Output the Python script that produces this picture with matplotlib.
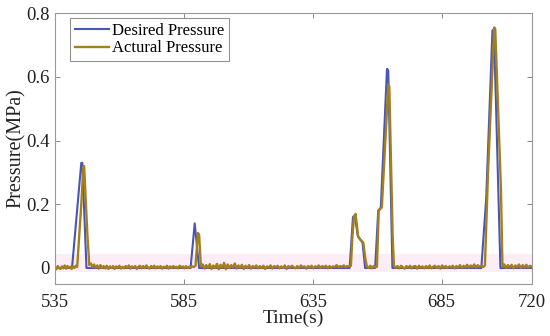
import numpy as np
import matplotlib
matplotlib.use('Agg')
import matplotlib.pyplot as plt

plt.rcParams['font.family'] = ['Liberation Serif', 'DejaVu Serif']

# Presión deseada (puntos de quiebre de la consigna)
t_des = [535, 541.6, 545.2, 545.6, 547.2,
         587.6, 589.2, 590.9,
         649.3, 650.6, 651.3, 652.5, 653.3, 654.3, 655.3,
         659.2, 660.4, 661.4, 663.8, 664.3, 665.9,
         700.4, 702.3, 704.7, 705.3, 707.8, 720]
p_des = [0, 0, 0.33, 0.33, 0,
         0, 0.14, 0,
         0, 0.16, 0.165, 0.10, 0.09, 0.08, 0,
         0, 0.18, 0.19, 0.625, 0.62, 0,
         0, 0.22, 0.745, 0.75, 0, 0]

rest_lims = [(535, 543.6), (548.3, 589.5), (591.6, 649.8),
             (656.0, 659.9), (666.5, 701.8), (708.6, 720)]
rest_vals = [
    [0.003, -0.004, 0.006, 0.000, -0.003, 0.005, -0.001, 0.008, -0.002, 0.006,
     0.001, 0.004, -0.003, 0.005, 0.000, 0.007, 0.003],
    [0.009, 0.014, 0.003, 0.011, 0.001, 0.008, -0.002, 0.009, 0.000, 0.006,
     -0.001, 0.007, -0.003, 0.005, 0.000, 0.006, -0.003, 0.005, 0.001, 0.007,
     -0.002, 0.004, -0.001, 0.006, 0.000, 0.008, -0.002, 0.005, 0.001, 0.006,
     -0.003, 0.004, 0.007, -0.001, 0.006, 0.000, 0.008, 0.002, -0.002, 0.006,
     0.001, 0.007, -0.001, 0.005, 0.000, 0.006, -0.002, 0.004, 0.001, 0.007,
     -0.002, 0.005, 0.000, 0.006, 0.001, 0.004, -0.001, 0.007, 0.002, 0.005,
     -0.001, 0.006, 0.000, 0.004, 0.002, 0.005, 0.003, 0.007],
    [0.005, 0.011, -0.002, 0.009, 0.001, 0.012, -0.003, 0.008, 0.000, 0.013,
     -0.004, 0.010, 0.001, 0.016, -0.004, 0.011, 0.000, 0.009, 0.002, 0.014,
     -0.002, 0.008, 0.001, 0.010, -0.003, 0.007, 0.000, 0.009, -0.002, 0.006,
     0.002, 0.008, -0.001, 0.006, 0.000, 0.007, -0.003, 0.005, 0.001, 0.008,
     -0.002, 0.006, 0.002, 0.007, -0.001, 0.005, 0.000, 0.008, -0.003, 0.006,
     0.001, 0.007, 0.002, -0.001, 0.006, 0.000, 0.008, 0.002, 0.005, -0.002,
     0.006, 0.001, 0.007, -0.001, 0.005, 0.003, 0.008, 0.000, 0.006, 0.002,
     0.007, -0.001, 0.006, 0.001, 0.005, 0.003, 0.009, 0.002, 0.006, 0.004,
     0.008, 0.003, 0.006, 0.005, 0.007],
    [0.005, 0.000, 0.007, -0.001, 0.006, 0.002, 0.004],
    [0.007, 0.001, 0.006, -0.001, 0.007, 0.002, -0.002, 0.006, 0.000, 0.007,
     -0.001, 0.005, 0.006, -0.002, 0.007, 0.001, 0.005, -0.001, 0.006, 0.000,
     0.008, -0.001, 0.004, 0.007, 0.000, 0.006, -0.002, 0.008, 0.001, 0.006,
     0.000, 0.005, 0.002, 0.007, -0.001, 0.006, 0.001, 0.009, 0.000, 0.007,
     0.002, 0.010, 0.001, 0.008, 0.003, 0.011, 0.002, 0.009, 0.004, 0.007,
     0.003, 0.008],
    [0.004, 0.011, 0.000, 0.009, 0.002, 0.010, -0.001, 0.008, 0.003, 0.011,
     0.000, 0.009, 0.002, 0.010, 0.001, 0.007, 0.004],
]
# Presión real: subidas y bajadas entre tramos de reposo
peak_t = [[545.2, 546.0, 546.3, 547.6],
          [590.0, 590.4, 590.9],
          [650.4, 651.0, 651.6, 652.6, 653.4, 654.6, 655.4],
          [660.6, 661.8, 664.3, 664.7, 666.0],
          [703.0, 705.4, 705.8, 708.0]]
peak_p = [[0.20, 0.32, 0.32, 0.10],
          [0.06, 0.11, 0.105],
          [0.10, 0.16, 0.17, 0.10, 0.09, 0.08, 0.03],
          [0.18, 0.19, 0.575, 0.57, 0.10],
          [0.30, 0.755, 0.75, 0.25]]

t_act, p_act = [], []
for i, (a, b) in enumerate(rest_lims):
    t_act += list(np.linspace(a, b, len(rest_vals[i])))
    p_act += rest_vals[i]
    if i < len(peak_t):
        t_act += peak_t[i]
        p_act += peak_p[i]

fig = plt.figure(figsize=(5.5, 3.36), dpi=100)
ax = fig.add_axes([0.1, 0.155, 0.867, 0.806])

ax.axhspan(-0.012, 0.045, color='#fdedf7', lw=0, zorder=0)
ax.plot(t_des, p_des, color='#4a55b8', lw=1.5, label='Desired Pressure')
ax.plot(t_act, p_act, color='#a3801c', lw=1.7, label='Actural Pressure')

ax.set_xlim(535, 720)
ax.set_ylim(-0.05, 0.8)
ax.set_xticks([535, 585, 635, 685, 720])
ax.set_yticks([0, 0.2, 0.4, 0.6, 0.8])
ax.set_yticklabels(['0', '0.2', '0.4', '0.6', '0.8'])
ax.tick_params(direction='in', top=True, right=True, length=3.5,
               width=0.6, colors='#777777', labelcolor='#222222',
               labelsize=13.5)
ax.tick_params(axis='x', pad=7)
ax.tick_params(axis='y', pad=4)
for s in ax.spines.values():
    s.set_color('#999999')
    s.set_linewidth(0.8)

ax.set_xlabel('Time(s)', fontsize=14, color='#222222', labelpad=-1)
ax.set_ylabel('Pressure(MPa)', fontsize=14.5, color='#222222', labelpad=0)

leg = ax.legend(loc='upper left', bbox_to_anchor=(0.025, 0.995),
                fontsize=12, frameon=True, fancybox=False,
                handlelength=2.0, handletextpad=0.2, borderpad=0.3,
                labelspacing=0.1, borderaxespad=0.2)
leg.get_frame().set_edgecolor('#777777')
leg.get_frame().set_linewidth(0.8)

plt.savefig('out.png', dpi=100)
